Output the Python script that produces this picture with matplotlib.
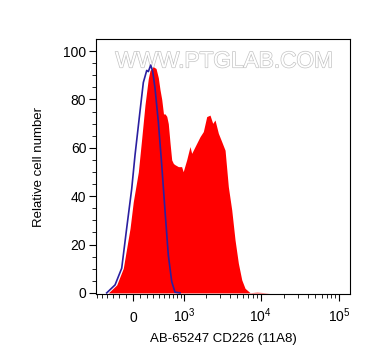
import numpy as np
import matplotlib
matplotlib.use('Agg')
import matplotlib.pyplot as plt
import matplotlib.patheffects as pe

plt.rcParams['font.family'] = ['Liberation Sans', 'DejaVu Sans']
plt.rcParams['mathtext.default'] = 'regular'

# stained sample (red fill)
red_x = [-372, -234, -136, -41, 4, 74, 122, 169, 219, 245, 298, 343, 383, 414,
         446, 480, 512, 547, 580, 619, 658, 699, 739, 830, 925, 974, 1090, 1211,
         1278, 1419, 1654, 1828, 2026, 2237, 2427, 2599, 2872, 3177, 3506, 3863,
         4272, 4709, 5194, 5743, 6326, 7327, 9000, 13000]
red_y = [0, 3.3, 10.2, 26.7, 37.7, 50, 64, 77.7, 88.7, 92, 93.5, 92.8, 89, 84,
         80, 74, 74, 73, 70, 62, 55, 53.5, 53, 52.2, 52.2, 50.1, 55, 60.5,
         57.7, 60.5, 64.6, 66.7, 72.9, 73.5, 70.1, 71.5, 66, 62.5, 59, 43.9,
         34.3, 21.9, 12.3, 5.4, 1.9, 0.1, 0.3, 0]

# isotype control (blue line)
blue_x = [-401, -260, -159, -88, -18, 28, 97, 145, 195, 219, 256, 288, 326,
          383, 446, 512, 580, 658, 739, 877]
blue_y = [0, 3.3, 10.2, 26.7, 43, 57, 75, 87, 92, 91.5, 94.2, 91.5, 84.6,
          70.8, 52.9, 33.6, 15.7, 4.7, 0.3, 0]

xticks = [0, 1e3, 1e4, 1e5]
xticklabels = ['0', '$10^3$', '$10^4$', '$10^5$']
yticks = [0, 20, 40, 60, 80, 100]

W = 470.0
fwd = lambda v: np.arcsinh(np.asarray(v) / W)
inv = lambda t: W * np.sinh(np.asarray(t))

fig = plt.figure(figsize=(3.72, 3.64), dpi=100)
ax = fig.add_axes([0.258, 0.192, 0.683, 0.701])
ax.set_xscale('function', functions=(fwd, inv))

ax.fill_between(red_x, red_y, 0, color='#ff0000', lw=0, zorder=2)
ax.plot(blue_x, blue_y, color='#2a1fa0', lw=1.2, zorder=3)

ax.text(0.504, 0.914, 'WWW.PTGLAB.COM', transform=ax.transAxes, ha='center',
        va='center', fontsize=16.3, color='white', zorder=1,
        path_effects=[pe.Stroke(linewidth=1.0, foreground='#c4c4c4'), pe.Normal()])

ax.set_xlim(-619, 138900)
ax.set_ylim(-0.5, 105)

ax.set_xticks(xticks)
ax.set_xticklabels(xticklabels)
minor = [-600, -500, -400, -300, -200, -100, 100, 200, 300, 400, 500, 600, 700, 800, 900]
minor += [m * 10**e for e in (3, 4) for m in range(2, 10)]
ax.set_xticks(minor, minor=True)
ax.set_yticks(yticks)
ax.set_yticks(np.arange(0, 105, 5), minor=True)

ax.tick_params(which='major', length=5, width=0.8, labelsize=10)
ax.tick_params(axis='y', which='major', pad=2)
ax.tick_params(axis='x', which='major', pad=15)
ax.tick_params(which='minor', length=3, width=0.6)
for lbl in ax.get_xticklabels():
    lbl.set_verticalalignment('baseline')
for s in ax.spines.values():
    s.set_linewidth(0.8)

ax.set_xlabel('AB-65247 CD226 (11A8)', fontsize=9.5, labelpad=6)
ax.set_ylabel('Relative cell number', fontsize=9.5, labelpad=13)

fig.savefig('out.png', dpi=100)
